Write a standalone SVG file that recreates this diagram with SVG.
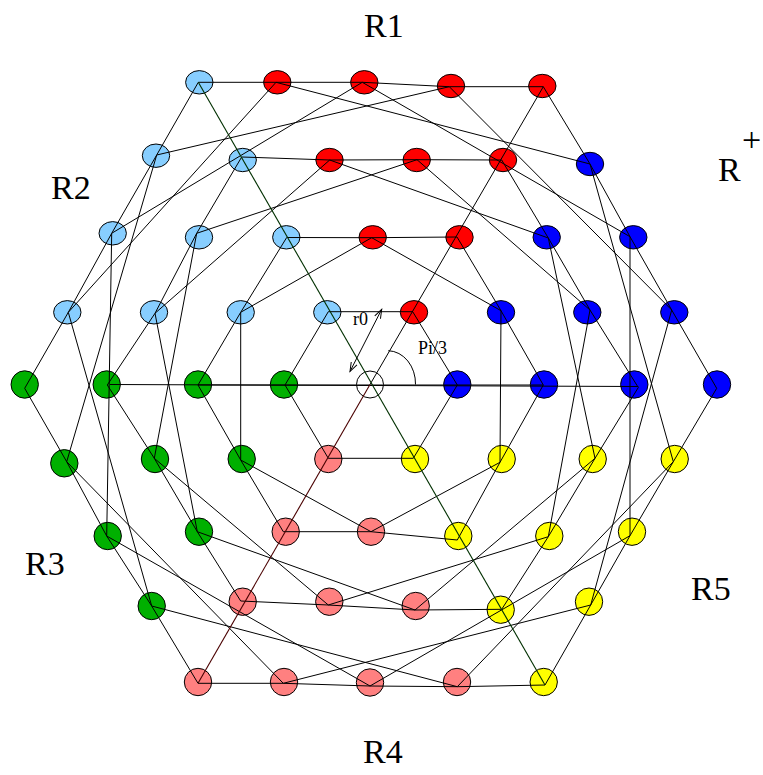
<svg xmlns="http://www.w3.org/2000/svg" width="763" height="775" viewBox="0 0 763 775">
<style>
.n{stroke:#000;stroke-width:1}
.lb{fill:#87CEFF}.rd{fill:#FF0000}.bl{fill:#0000FF}.gr{fill:#00B000}.pk{fill:#FF8080}.ye{fill:#FFFF00}.ct{fill:#FFFFFF}
.e{fill:none;stroke:#000;stroke-width:1}
.lbl{font-family:"Liberation Serif","Times New Roman",serif;font-size:34px;fill:#000}
.sm{font-family:"Liberation Serif","Times New Roman",serif;font-size:18px;fill:#000}
</style>
<defs>
<marker id="ah" viewBox="-10 -5 12 10" refX="0" refY="0" markerWidth="12" markerHeight="10" markerUnits="userSpaceOnUse" orient="auto-start-reverse">
<path d="M-9,-3.2 L0,0 L-9,3.2" fill="none" stroke="#000" stroke-width="1"/>
</marker>
</defs>
<rect width="763" height="775" fill="#fff"/>
<g id="nodes">
<g id="n-m4p4"><ellipse class="n lb" cx="199.3" cy="82.3" rx="13.7" ry="11.7"/></g>
<g id="n-m3p4"><ellipse class="n rd" cx="277.3" cy="82.3" rx="13.7" ry="11.7"/></g>
<g id="n-m2p4"><ellipse class="n rd" cx="364.3" cy="82.3" rx="13.7" ry="11.7"/></g>
<g id="n-m1p4"><ellipse class="n rd" cx="451" cy="86" rx="13.7" ry="11.7"/></g>
<g id="n-0p4"><ellipse class="n rd" cx="542.3" cy="86" rx="13.7" ry="11.7"/></g>
<g id="n-m4p3"><ellipse class="n lb" cx="156" cy="155.7" rx="13.7" ry="11.7"/></g>
<g id="n-m3p3"><ellipse class="n lb" cx="242.7" cy="160" rx="13.7" ry="11.7"/></g>
<g id="n-m2p3"><ellipse class="n rd" cx="329.5" cy="160" rx="13.7" ry="11.7"/></g>
<g id="n-m1p3"><ellipse class="n rd" cx="416.7" cy="160" rx="13.7" ry="11.7"/></g>
<g id="n-0p3"><ellipse class="n rd" cx="503" cy="160" rx="13.7" ry="11.7"/></g>
<g id="n-1p3"><ellipse class="n bl" cx="590" cy="164" rx="13.7" ry="11.7"/></g>
<g id="n-m4p2"><ellipse class="n lb" cx="112.7" cy="233.3" rx="13.7" ry="11.7"/></g>
<g id="n-m3p2"><ellipse class="n lb" cx="199" cy="237.3" rx="13.7" ry="11.7"/></g>
<g id="n-m2p2"><ellipse class="n lb" cx="286.3" cy="237.3" rx="13.7" ry="11.7"/></g>
<g id="n-m1p2"><ellipse class="n rd" cx="372.7" cy="237.3" rx="13.7" ry="11.7"/></g>
<g id="n-0p2"><ellipse class="n rd" cx="459.5" cy="237.3" rx="13.7" ry="11.7"/></g>
<g id="n-1p2"><ellipse class="n bl" cx="546.7" cy="237.3" rx="13.7" ry="11.7"/></g>
<g id="n-2p2"><ellipse class="n bl" cx="633.3" cy="237.3" rx="13.7" ry="11.7"/></g>
<g id="n-m4p1"><ellipse class="n lb" cx="67.3" cy="312.3" rx="13.7" ry="11.7"/></g>
<g id="n-m3p1"><ellipse class="n lb" cx="154" cy="312.3" rx="13.7" ry="11.7"/></g>
<g id="n-m2p1"><ellipse class="n lb" cx="240.7" cy="312.3" rx="13.7" ry="11.7"/></g>
<g id="n-m1p1"><ellipse class="n lb" cx="327.3" cy="312.3" rx="13.7" ry="11.7"/></g>
<g id="n-0p1"><ellipse class="n rd" cx="414" cy="312.3" rx="13.7" ry="11.7"/></g>
<g id="n-1p1"><ellipse class="n bl" cx="501" cy="312.3" rx="13.7" ry="11.7"/></g>
<g id="n-2p1"><ellipse class="n bl" cx="587.3" cy="312.3" rx="13.7" ry="11.7"/></g>
<g id="n-3p1"><ellipse class="n bl" cx="674.3" cy="312.3" rx="13.7" ry="11.7"/></g>
<g id="n-m4p0"><circle class="n gr" cx="24.7" cy="384.5" r="13.7"/></g>
<g id="n-m3p0"><circle class="n gr" cx="106.7" cy="384.5" r="13.7"/></g>
<g id="n-m2p0"><circle class="n gr" cx="198" cy="384.5" r="13.7"/></g>
<g id="n-m1p0"><circle class="n gr" cx="284" cy="384.5" r="13.7"/></g>
<g id="n-center"><circle class="n ct" cx="370" cy="384.5" r="13.5"/></g>
<g id="n-1p0"><circle class="n bl" cx="457.3" cy="384.5" r="13.7"/></g>
<g id="n-2p0"><circle class="n bl" cx="544" cy="384.5" r="13.7"/></g>
<g id="n-3p0"><circle class="n bl" cx="634.3" cy="384.5" r="13.7"/></g>
<g id="n-4p0"><circle class="n bl" cx="717" cy="384.5" r="13.7"/></g>
<g id="n-m3m1"><circle class="n gr" cx="64.3" cy="463.3" r="13.7"/></g>
<g id="n-m2m1"><circle class="n gr" cx="155" cy="459" r="13.7"/></g>
<g id="n-m1m1"><circle class="n gr" cx="241.7" cy="459" r="13.7"/></g>
<g id="n-0m1"><circle class="n pk" cx="328.3" cy="459" r="13.7"/></g>
<g id="n-1m1"><circle class="n ye" cx="415" cy="459" r="13.7"/></g>
<g id="n-2m1"><circle class="n ye" cx="501.7" cy="459" r="13.7"/></g>
<g id="n-3m1"><circle class="n ye" cx="592.7" cy="459" r="13.7"/></g>
<g id="n-4m1"><circle class="n ye" cx="674.7" cy="459" r="13.7"/></g>
<g id="n-m2m2"><circle class="n gr" cx="107.7" cy="536" r="13.7"/></g>
<g id="n-m1m2"><circle class="n gr" cx="199" cy="531.7" r="13.7"/></g>
<g id="n-0m2"><circle class="n pk" cx="285.7" cy="531.7" r="13.7"/></g>
<g id="n-1m2"><circle class="n pk" cx="371" cy="531.7" r="13.7"/></g>
<g id="n-2m2"><circle class="n ye" cx="458.3" cy="536" r="13.7"/></g>
<g id="n-3m2"><circle class="n ye" cx="549.3" cy="536" r="13.7"/></g>
<g id="n-4m2"><circle class="n ye" cx="632" cy="531.7" r="13.7"/></g>
<g id="n-m1m3"><circle class="n gr" cx="151.7" cy="606" r="13.7"/></g>
<g id="n-0m3"><circle class="n pk" cx="242.7" cy="601.7" r="13.7"/></g>
<g id="n-1m3"><circle class="n pk" cx="329.3" cy="601.7" r="13.7"/></g>
<g id="n-2m3"><circle class="n pk" cx="415.7" cy="606" r="13.7"/></g>
<g id="n-3m3"><circle class="n ye" cx="500.7" cy="609.7" r="13.7"/></g>
<g id="n-4m3"><circle class="n ye" cx="589" cy="601.7" r="13.7"/></g>
<g id="n-0m4"><circle class="n pk" cx="198" cy="682" r="13.7"/></g>
<g id="n-1m4"><circle class="n pk" cx="284" cy="682" r="13.7"/></g>
<g id="n-2m4"><circle class="n pk" cx="370" cy="682.5" r="13.7"/></g>
<g id="n-3m4"><circle class="n pk" cx="457" cy="682" r="13.7"/></g>
<g id="n-4m4"><circle class="n ye" cx="543.7" cy="682" r="13.7"/></g>
</g>
<g id="connectors">
<polygon class="e" points="716.7,388.3 671.7,310 630,236.7 590,164 543.3,86.7 449.3,86.7 362.3,82.3 276,82.3 198.3,82.3 156.7,155 111.7,233.3 68.3,312.3 24.7,388.3 66.7,461.7 106.7,536 151.7,606 198,683.3 283.3,683.3 370,686 457.3,686.7 545,685 590.7,605 630,535.7 673.3,461.7"/>
<polygon class="e" points="638.3,387.5 590,310 548.3,238 501.7,160 417,159.7 329.7,160 241.7,157 196.7,233.3 155,313.3 107.3,385 154.3,458.3 197.3,531.7 240.7,601 328.3,605 415,610 501.7,609.3 548.3,536.7 595,458.3"/>
<polygon class="e" points="543.3,385 501,310.7 457,237 371.7,237.7 286.7,237.5 240.7,312.3 198,385 240.7,460 283.3,531.7 371,531.7 457.3,540 500,462.3"/>
<polygon class="e" points="457.3,385 412.7,311.7 328.3,311.7 285,385 328.3,458.3 413.3,458.3"/>
<polygon class="e" points="501,310.7 500,462.3 371,531.7 240.7,460 240.7,312.3 371.7,237.7"/>
<polygon class="e" points="548.3,238 595,458.3 415,610 197.3,531.7 155,313.3 329.7,160"/>
<polygon class="e" points="590,310 548.3,536.7 328.3,605 154.3,458.3 196.7,233.3 417,159.7"/>
<polygon class="e" points="590,164 673.3,461.7 457.3,686.7 151.7,606 68.3,312.3 276,82.3"/>
<polygon class="e" points="630,236.7 630,535.7 370,686 106.7,536 111.7,233.3 362.3,82.3"/>
<polygon class="e" points="671.7,310 590.7,605 283.3,683.3 66.7,461.7 156.7,155 449.3,86.7"/>
<line class="e" x1="110" y1="384.5" x2="638.3" y2="386.5"/>
<line class="e" x1="198" y1="385" x2="543.3" y2="385"/>
<line class="e" x1="370" y1="384.5" x2="543.3" y2="86.7"/>
<line x1="370" y1="384.5" x2="198" y2="683.3" stroke="#4a0000" stroke-width="1.1"/>
<line x1="198.3" y1="82.3" x2="545" y2="685" stroke="#003000" stroke-width="1.1"/>
<line class="e" x1="350" y1="371.5" x2="381.7" y2="309.3" marker-start="url(#ah)" marker-end="url(#ah)"/>
<path class="e" d="M 388.3 350.7 A 28 33 0 0 1 415.5 384.5"/>
</g>
<g id="labels">
<text class="lbl" x="364" y="37">R1</text>
<text class="lbl" x="51" y="199">R2</text>
<text class="lbl" x="25" y="575">R3</text>
<text class="lbl" x="363" y="763">R4</text>
<text class="lbl" x="691" y="600">R5</text>
<text class="lbl" x="718" y="181">R</text>
<text class="lbl" x="742" y="151">+</text>
<text class="sm" x="353" y="325">r0</text>
<text class="sm" x="418" y="354">Pi/3</text>
</g>
</svg>
